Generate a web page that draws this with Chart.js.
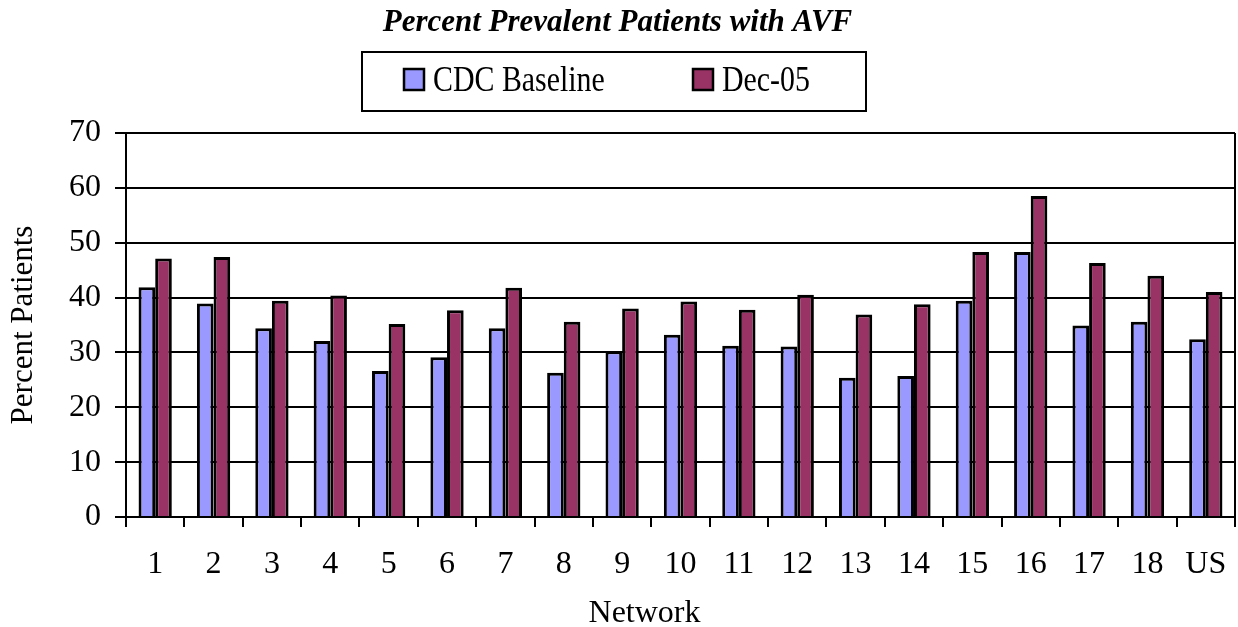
<!DOCTYPE html>
<html>
<head>
<meta charset="utf-8">
<title>Percent Prevalent Patients with AVF</title>
<script src="https://cdn.jsdelivr.net/npm/chart.js@4/dist/chart.umd.min.js"></script>
<style>
  html, body { margin: 0; padding: 0; background: #fff; }
  #wrap { width: 1238px; height: 627px; }
</style>
</head>
<body>
<div id="wrap"><canvas id="avfChart" width="1238" height="627"></canvas></div>
<script>
// data
const networks = ['1', '2', '3', '4', '5', '6', '7', '8', '9', '10', '11', '12', '13', '14', '15', '16', '17', '18', 'US'];
const cdcBaseline = [41.9, 38.9, 34.4, 32.1, 26.6, 29.1, 34.4, 26.3, 30.2, 33.2, 31.2, 31.1, 25.4, 25.7, 39.4, 48.3, 34.9, 35.6, 32.4];
const dec05 = [47.1, 47.4, 39.4, 40.4, 35.2, 37.7, 41.8, 35.6, 38.0, 39.3, 37.8, 40.5, 36.9, 38.8, 48.3, 58.5, 46.3, 44.0, 41.0];
const yTicks = [0, 10, 20, 30, 40, 50, 60, 70];

const serif = "'Liberation Serif', 'Times New Roman', Times, serif";
Chart.defaults.font.family = serif;
Chart.defaults.color = '#000';

// boxed legend like the old Excel one (text is a bit condensed there)
const boxedLegend = {
  id: 'boxedLegend',
  afterDraw(chart) {
    const ctx = chart.ctx;
    const cx = chart.width / 2 - 5;
    const left = cx - 252, top = 52, w = 504, h = 59;
    ctx.save();
    ctx.strokeStyle = '#000';
    ctx.lineWidth = 2;
    ctx.strokeRect(left, top, w, h);
    const itemX = [left + 42, left + 331];
    ctx.font = '36px ' + serif;
    ctx.textBaseline = 'alphabetic';
    chart.data.datasets.forEach((ds, i) => {
      const x = itemX[i];
      ctx.fillStyle = ds.backgroundColor;
      ctx.fillRect(x, 69, 20, 21);
      ctx.lineWidth = 2.5;
      ctx.strokeRect(x, 69, 20, 21);
      ctx.fillStyle = '#000';
      ctx.save();
      ctx.translate(x + 29, 91);
      ctx.scale(0.83, 1);
      ctx.fillText(ds.label, 0, 0);
      ctx.restore();
    });
    ctx.restore();
  }
};

// right edge of the plot frame + the x-axis title (sits left of centre in the original)
const frameAndXTitle = {
  id: 'frameAndXTitle',
  afterDraw(chart) {
    const ctx = chart.ctx;
    const a = chart.chartArea;
    ctx.save();
    ctx.strokeStyle = '#000';
    ctx.lineWidth = 2;
    ctx.beginPath();
    ctx.moveTo(a.right, a.top);
    ctx.lineTo(a.right, a.bottom);
    ctx.stroke();
    ctx.fillStyle = '#000';
    ctx.font = '32px ' + serif;
    ctx.textAlign = 'center';
    ctx.textBaseline = 'alphabetic';
    ctx.fillText('Network', (a.left + a.right) / 2 - 36, 622);
    ctx.restore();
  }
};

new Chart(document.getElementById('avfChart'), {
  type: 'bar',
  data: {
    labels: networks,
    datasets: [
      {
        label: 'CDC Baseline',
        data: cdcBaseline,
        backgroundColor: '#9999FF',
        borderColor: '#000',
        borderWidth: 3,
        categoryPercentage: 0.57,
        barPercentage: 1.0
      },
      {
        label: 'Dec-05',
        data: dec05,
        backgroundColor: '#993366',
        borderColor: '#000',
        borderWidth: 3,
        categoryPercentage: 0.57,
        barPercentage: 1.0
      }
    ]
  },
  options: {
    responsive: false,
    animation: false,
    devicePixelRatio: 1,
    layout: { padding: { left: 0, right: 3, top: 0, bottom: 25.6 } },
    plugins: {
      legend: { display: false },
      tooltip: { enabled: false },
      title: {
        display: true,
        text: 'Percent Prevalent Patients with AVF',
        color: '#000',
        font: { size: 31, weight: 'bold', style: 'italic', family: serif },
        padding: { top: 4, bottom: 91.8 }
      }
    },
    scales: {
      x: {
        grid: {
          offset: true,
          drawOnChartArea: false,
          drawTicks: true,
          tickLength: 10,
          color: '#000',
          lineWidth: 2
        },
        border: { color: '#000', width: 2 },
        ticks: { font: { size: 32, lineHeight: 1.825 }, padding: 8, maxRotation: 0, autoSkip: false }
      },
      y: {
        min: 0,
        max: 70,
        afterBuildTicks(scale) { scale.ticks = yTicks.map(v => ({ value: v })); },
        grid: { color: '#000', lineWidth: 2, tickLength: 11 },
        border: { color: '#000', width: 2 },
        ticks: { font: { size: 32 }, padding: 14 },
        title: {
          display: true,
          text: 'Percent Patients',
          font: { size: 31 },
          padding: { top: 5, bottom: 12.8 }
        }
      }
    }
  },
  plugins: [boxedLegend, frameAndXTitle]
});
</script>
</body>
</html>
